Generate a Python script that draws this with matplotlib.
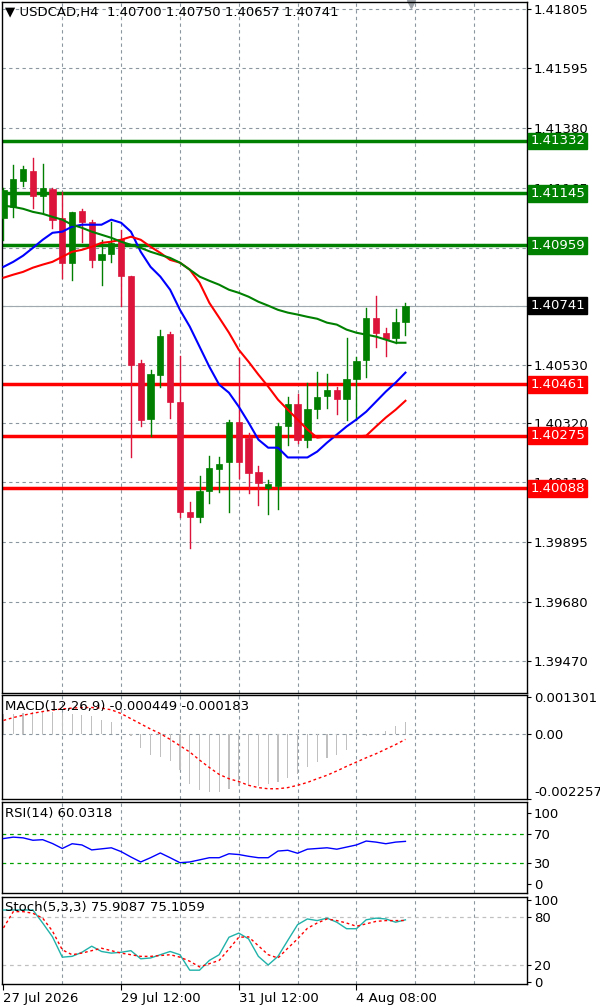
import matplotlib
matplotlib.use("Agg")
import numpy as np
from matplotlib import pyplot as plt
from matplotlib.patches import Rectangle
from matplotlib.transforms import blended_transform_factory

# ---- data ----
opens = [1.41057, 1.41096, 1.41189, 1.41225, 1.41136, 1.41161, 1.41057, 1.40896, 1.41082, 1.41042,
         1.40906, 1.40928, 1.40982, 1.40849, 1.40538, 1.40337, 1.40495, 1.40641, 1.40398, 1.40001,
         1.39986, 1.40079, 1.40155, 1.40180, 1.40326, 1.40269, 1.40147, 1.40090, 1.40097, 1.40309,
         1.40391, 1.40262, 1.40373, 1.40420, 1.40441, 1.40409, 1.40480, 1.40548, 1.40699, 1.40645,
         1.40627, 1.40684]
closes = [1.41157, 1.41196, 1.41232, 1.41136, 1.41164, 1.41050, 1.40896, 1.41078, 1.41042, 1.40906,
          1.40928, 1.40967, 1.40849, 1.40531, 1.40334, 1.40498, 1.40634, 1.40398, 1.40001, 1.39986,
          1.40079, 1.40162, 1.40173, 1.40326, 1.40180, 1.40144, 1.40108, 1.40104, 1.40309, 1.40391,
          1.40262, 1.40373, 1.40416, 1.40441, 1.40409, 1.40480, 1.40545, 1.40699, 1.40645, 1.40624,
          1.40684, 1.40741]
highs = [1.41164, 1.41247, 1.41243, 1.41272, 1.41250, 1.41164, 1.41150, 1.41078, 1.41089, 1.41050,
         1.40978, 1.41042, 1.41014, 1.40849, 1.40548, 1.40513, 1.40656, 1.40649, 1.40563, 1.40040,
         1.40130, 1.40205, 1.40198, 1.40334, 1.40556, 1.40287, 1.40169, 1.40119, 1.40323, 1.40416,
         1.40427, 1.40466, 1.40505, 1.40498, 1.40452, 1.40627, 1.40559, 1.40735, 1.40778, 1.40663,
         1.40731, 1.40750]
lows = [1.40978, 1.41060, 1.41171, 1.41093, 1.41075, 1.41021, 1.40842, 1.40835, 1.40971, 1.40881,
        1.40817, 1.40899, 1.40742, 1.40198, 1.40309, 1.40276, 1.40452, 1.40341, 1.39983, 1.39872,
        1.39968, 1.40036, 1.40076, 1.40001, 1.40126, 1.40072, 1.40029, 1.39994, 1.40015, 1.40244,
        1.40251, 1.40237, 1.40341, 1.40377, 1.40355, 1.40334, 1.40334, 1.40488, 1.40595, 1.40563,
        1.40609, 1.40638]

ma_fast = [1.40881, 1.40899, 1.40921, 1.40949, 1.40978, 1.41003, 1.41007, 1.41025, 1.41032, 1.41032,
           1.41032, 1.41050, 1.41039, 1.41007, 1.40935, 1.40881, 1.40846, 1.40799, 1.40727, 1.40667,
           1.40595, 1.40523, 1.40459, 1.40430, 1.40380, 1.40323, 1.40262, 1.40233, 1.40233, 1.40198,
           1.40198, 1.40198, 1.40219, 1.40251, 1.40280, 1.40309, 1.40334, 1.40362, 1.40398, 1.40434,
           1.40466, 1.40502]
ma_mid = [1.40842, 1.40853, 1.40863, 1.40878, 1.40889, 1.40899, 1.40917, 1.40935, 1.40942, 1.40953,
          1.40967, 1.40971, 1.40978, 1.40989, 1.40978, 1.40953, 1.40931, 1.40906, 1.40896, 1.40871,
          1.40824, 1.40752, 1.40699, 1.40645, 1.40584, 1.40541, 1.40495, 1.40452, 1.40405, 1.40369,
          1.40334, 1.40298, 1.40269, 1.40273, 1.40273, 1.40273, 1.40273, 1.40276, 1.40309, 1.40341,
          1.40369, 1.40401]
ma_slow = [1.41100, 1.41096, 1.41089, 1.41078, 1.41071, 1.41060, 1.41050, 1.41032, 1.41021, 1.41007,
           1.40996, 1.40985, 1.40971, 1.40960, 1.40949, 1.40935, 1.40924, 1.40913, 1.40896, 1.40871,
           1.40846, 1.40831, 1.40817, 1.40799, 1.40788, 1.40774, 1.40756, 1.40742, 1.40727, 1.40717,
           1.40710, 1.40702, 1.40695, 1.40681, 1.40674, 1.40656, 1.40645, 1.40638, 1.40631, 1.40620,
           1.40609, 1.40609]

resistance_levels = [1.41332, 1.41145, 1.40959]
support_levels = [1.40461, 1.40275, 1.40088]
last_price = 1.40741
price_ticks = [1.41805, 1.41595, 1.41380, 1.41165, 1.40950, 1.40740, 1.40530, 1.40320,
               1.40110, 1.39895, 1.39680, 1.39470]
price_tick_labels = ["1.41805", "1.41595", "1.41380", "1.41165", "", "", "1.40530", "1.40320",
                     "1.40110", "1.39895", "1.39680", "1.39470"]

macd_hist = [0.00070, 0.00072, 0.00075, 0.00078, 0.00078, 0.00076, 0.00074, 0.00072, 0.00068, 0.00062,
             0.00050, 0.00042, 0.00002, -0.00005, -0.00049, -0.00072, -0.00078, -0.00095, -0.00123, -0.00174,
             -0.00194, -0.00200, -0.00203, -0.00192, -0.00180, -0.00180, -0.00182, -0.00174, -0.00166, -0.00152,
             -0.00140, -0.00114, -0.00097, -0.00083, -0.00071, -0.00055, -0.00009, -0.00007, -0.00003, 0.00011,
             0.00027, 0.00042]
macd_signal = [0.00048, 0.00058, 0.00066, 0.00073, 0.00079, 0.00084, 0.00088, 0.00091, 0.00093, 0.00093,
               0.00091, 0.00085, 0.00072, 0.00054, 0.00036, 0.00018, 0.00002, -0.00018, -0.00040, -0.00062,
               -0.00090, -0.00116, -0.00140, -0.00155, -0.00165, -0.00178, -0.00186, -0.00190, -0.00190, -0.00186,
               -0.00178, -0.00168, -0.00155, -0.00143, -0.00128, -0.00112, -0.00097, -0.00082, -0.00068, -0.00052,
               -0.00036, -0.00018]
rsi = [64, 66, 65, 61.6, 62.4, 57, 50, 56.7, 55, 48, 49.5, 51, 45.6, 38, 31, 37, 43.7, 37, 30, 31,
       34, 37, 37, 42.6, 41.5, 39, 37, 37, 46.4, 47.5, 43.3, 49, 50, 51, 49, 52, 55, 60.5, 59, 56.7,
       59, 60.03]
stoch_k = [88, 88, 88, 88, 72, 55, 30, 31, 36, 43.5, 37, 35, 36, 38, 28, 29, 33, 37, 33, 14,
           14, 26, 33, 54.5, 59.6, 52.5, 31, 20.4, 31, 50.6, 70, 77, 75, 78, 73, 65, 65, 76, 78, 77,
           73, 75.9]
stoch_d = [66, 86, 86, 84, 78, 62, 39, 33, 35, 38, 41, 38, 35, 33, 31, 31, 32, 33, 30, 25,
           18, 22, 26, 40, 54.5, 55, 44, 33, 29, 41, 52.5, 65.5, 72, 77, 75, 72, 68, 71, 74, 75,
           75, 75.1]

date_ticks = [0, 12, 24, 36]
date_labels = ["27 Jul 2026", "29 Jul 12:00", "31 Jul 12:00", "4 Aug 08:00"]

UP = "#007f00"
DOWN = "#dc143c"
FS = 9.5
W, H = 600, 1006
XMIN, XMAX = -0.15, 53.4
vgrid = np.arange(6, 54, 6)


def panel(top, bottom):
    ax = fig.add_axes([2 / W, 1 - bottom / H, 525 / W, (bottom - top) / H])
    ax.set_xlim(XMIN, XMAX)
    ax.set_xticks([])
    ax.yaxis.tick_right()
    ax.tick_params(axis="y", length=3, labelsize=FS, pad=2)
    for s in ax.spines.values():
        s.set_color("black")
        s.set_linewidth(1)
    for gx in vgrid:
        ax.axvline(gx, color="#8c96a0", ls=(0, (3, 3)), lw=0.8, zorder=0)
    return ax


fig = plt.figure(figsize=(W / 100, H / 100), dpi=100)
fig.patch.set_facecolor("white")

# ---- main price panel ----
ax = panel(2, 693)
ax.set_ylim(1.39354, 1.41830)
ax.set_yticks(price_ticks)
ax.set_yticklabels(price_tick_labels)
for p in price_ticks:
    ax.axhline(p, color="#8c96a0", ls=(0, (3, 3)), lw=0.8, zorder=0)

x = np.arange(len(opens))
for i in x:
    o, c, h, l = opens[i], closes[i], highs[i], lows[i]
    col = UP if c >= o else DOWN
    ax.plot([i, i], [l, h], color=col, lw=1, zorder=3)
    ax.add_patch(Rectangle((i - 0.32, min(o, c)), 0.64, max(abs(c - o), 0.00003),
                           facecolor=col, edgecolor=col, lw=0.5, zorder=4))

ax.plot(x, ma_fast, color="#0000ff", lw=1.5, zorder=5)
ax.plot(x, ma_mid, color="#ff0000", lw=1.5, zorder=5)
ax.plot(x, ma_slow, color="#008000", lw=1.5, zorder=5)

trans = blended_transform_factory(ax.transAxes, ax.transData)
box = dict(boxstyle="square,pad=0.15")
for lv in resistance_levels:
    ax.axhline(lv, color="#008000", lw=2.5, zorder=2)
    ax.text(1.006, lv, f"{lv:.5f}", transform=trans, va="center", ha="left", fontsize=FS,
            color="white", bbox=dict(box, fc="#008000", ec="#008000"))
for lv in support_levels:
    ax.axhline(lv, color="#ff0000", lw=2.5, zorder=2)
    ax.text(1.006, lv, f"{lv:.5f}", transform=trans, va="center", ha="left", fontsize=FS,
            color="white", bbox=dict(box, fc="#ff0000", ec="#ff0000"))
ax.axhline(last_price, color="#a0a8b0", lw=0.8, zorder=1)
ax.text(1.006, last_price, f"{last_price:.5f}", transform=trans, va="center", ha="left",
        fontsize=FS, color="white", bbox=dict(box, fc="black", ec="black"))
ax.text(0.005, 0.995, "▼ USDCAD,H4  1.40700 1.40750 1.40657 1.40741", transform=ax.transAxes,
        va="top", ha="left", fontsize=FS)
ax.plot([41.6], [1.41822], marker="v", color="#9aa0a6", ms=6, clip_on=False)

# ---- MACD ----
ax2 = panel(695, 799)
ax2.set_ylim(-0.002257 * 1.0, 0.001301 * 1.05)
ax2.set_yticks([0.001301, 0.0, -0.002257])
ax2.set_yticklabels(["0.001301", "0.00", "-0.002257"])
ax2.get_yticklabels()[-1].set_va("bottom")
ax2.axhline(0, color="#8c96a0", ls=(0, (3, 3)), lw=0.8, zorder=0)
ax2.bar(x, macd_hist, width=0.12, color="#c0c0c0", zorder=2)
ax2.plot(x, macd_signal, color="#ff0000", ls=(0, (2, 2)), lw=1, zorder=3)
ax2.text(0.005, 0.95, "MACD(12,26,9) -0.000449 -0.000183", transform=ax2.transAxes,
         va="top", ha="left", fontsize=FS)

# ---- RSI ----
ax3 = panel(802, 893)
ax3.set_ylim(-12.7, 115.5)
ax3.set_yticks([100, 70, 30, 0])
for lv in (70, 30):
    ax3.axhline(lv, color="#00a000", ls=(0, (3, 3)), lw=0.9, zorder=1)
ax3.plot(x, rsi, color="#0000ff", lw=1, zorder=3)
ax3.text(0.005, 0.95, "RSI(14) 60.0318", transform=ax3.transAxes, va="top", ha="left", fontsize=FS)

# ---- Stochastic ----
ax4 = panel(897, 984)
ax4.set_ylim(-3, 104)
ax4.set_yticks([100, 80, 20, 0])
for lv in (80, 20):
    ax4.axhline(lv, color="#c0c0c0", ls=(0, (3, 3)), lw=0.9, zorder=1)
ax4.plot(x, stoch_k, color="#20b2aa", lw=1, zorder=3)
ax4.plot(x, stoch_d, color="#ff0000", ls=(0, (2, 2)), lw=1, zorder=3)
ax4.text(0.005, 0.95, "Stoch(5,3,3) 75.9087 75.1059", transform=ax4.transAxes,
         va="top", ha="left", fontsize=FS)
ax4.set_xticks(date_ticks)
ax4.set_xticklabels(date_labels, ha="left")
ax4.tick_params(axis="x", length=4, labelsize=FS, pad=2)

fig.savefig("out.png", dpi=100)
